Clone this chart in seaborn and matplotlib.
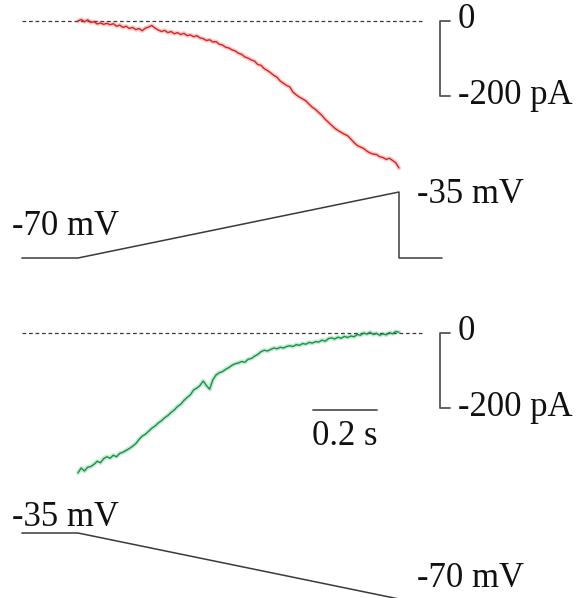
import numpy as np
import pandas as pd
import seaborn as sns
import matplotlib.pyplot as plt

# --- recorded traces: current (pA) sampled every 10 ms from ramp onset ---
current_up = [0, 4, -2, 3, -4, -2, -8, -5, -9, -6,
              -10, -7, -14, -11, -17, -14, -20, -17, -23, -20,
              -26, -19, -16, -12, -19, -24, -28, -25, -31, -28,
              -34, -31, -36, -33, -39, -37, -42, -39, -45, -47,
              -52, -50, -56, -55, -62, -64, -70, -72, -77, -80,
              -86, -89, -96, -99, -104, -107, -116, -118, -127, -132,
              -138, -145, -150, -160, -166, -172, -176, -190, -197, -203,
              -208, -213, -222, -230, -236, -244, -252, -262, -270, -278,
              -286, -292, -297, -302, -306, -315, -324, -332, -336, -340,
              -347, -352, -355, -356, -362, -364, -369, -366, -372, -378,
              -392]

current_down = [-373, -360, -368, -358, -356, -350, -342, -346, -335, -330,
                -334, -326, -330, -321, -318, -313, -308, -302, -295, -284,
                -275, -270, -262, -254, -248, -240, -234, -226, -220, -212,
                -205, -196, -190, -180, -172, -165, -152, -147, -140, -128,
                -140, -150, -125, -112, -106, -103, -97, -92, -86, -82,
                -80, -76, -78, -70, -68, -62, -57, -50, -46, -48,
                -44, -40, -42, -38, -40, -36, -34, -36, -31, -33,
                -28, -30, -25, -27, -23, -24, -19, -22, -15, -13,
                -16, -11, -14, -9, -12, -8, -10, -4, -6, 0,
                -3, 2, -4, -1, -6, -2, -5, 1, -2, 4,
                2]

sample_dt = 0.01  # s
time_up = [round(k * sample_dt, 2) for k in range(len(current_up))]
time_down = [round(k * sample_dt, 2) for k in range(len(current_down))]

# --- voltage command protocols (s, mV) ---
cmd_up_t = [-0.175, 0.0, 1.0, 1.0, 1.134]
cmd_up_v = [-70, -70, -35, -70, -70]
cmd_down_t = [-0.175, 0.0, 1.0]
cmd_down_v = [-35, -35, -70]

# --- scale bars ---
scale_current = [0, -200]   # pA
scale_time = 0.2            # s

# figure geometry in pixels
W, H = 578, 598
T0_PX, PX_PER_S = 78, 321
PX_PER_PA = 75 / 200
PX_PER_MV = 66 / 35

sns.set_theme(style="white")
plt.rcParams['font.family'] = ['Liberation Serif', 'DejaVu Serif']
plt.rcParams['text.color'] = '#111111'

fig = plt.figure(figsize=(W / 100, H / 100), dpi=100)


def overlay_axes(ref_px, ref_val, px_per_unit):
    ax = fig.add_axes([0, 0, 1, 1])
    ax.set_xlim(-T0_PX / PX_PER_S, (W - T0_PX) / PX_PER_S)
    ax.set_ylim(ref_val - (H - ref_px) / px_per_unit, ref_val + ref_px / px_per_unit)
    ax.axis('off')
    ax.patch.set_alpha(0)
    return ax


ax_i1 = overlay_axes(21, 0, PX_PER_PA)
ax_v1 = overlay_axes(192, -35, PX_PER_MV)
ax_i2 = overlay_axes(333, 0, PX_PER_PA)
ax_v2 = overlay_axes(533, -35, PX_PER_MV)

red = '#d8231f'
green = '#0e9644'
grey = '#3a3a3a'
bar_grey = '#555555'
fs = 25

t_start, t_dash_end = -0.1745, 1.0717
t_bar = (440 - T0_PX) / PX_PER_S
t_tick = (450 - T0_PX) / PX_PER_S
t_lab = (458 - T0_PX) / PX_PER_S

for ax, t, i, col in [(ax_i1, time_up, current_up, red),
                      (ax_i2, time_down, current_down, green)]:
    df = pd.DataFrame({'t': t, 'i': i})
    # zero-current reference
    ax.plot([t_start, t_dash_end], [0, 0], color=grey, lw=0.9,
            dashes=(3, 2.2))
    # soft halo + trace
    sns.lineplot(data=df, x='t', y='i', ax=ax, color=col, lw=3.2, alpha=0.22,
                 estimator=None, sort=False)
    sns.lineplot(data=df, x='t', y='i', ax=ax, color=col, lw=1.0,
                 estimator=None, sort=False)
    # current scale bracket
    ax.plot([t_tick, t_bar, t_bar, t_tick],
            [scale_current[0], scale_current[0], scale_current[1], scale_current[1]],
            color=bar_grey, lw=1.3)
    ax.text(t_lab, scale_current[0] + 4, '0', fontsize=fs, va='center', ha='left')
    ax.text(t_lab, scale_current[1] + 2, '-200 pA', fontsize=fs,
            va='center', ha='left')

# time scale bar
t_sb0 = (313 - T0_PX) / PX_PER_S
ax_i2.plot([t_sb0, t_sb0 + scale_time], [-205, -205], color=bar_grey, lw=1.3)
ax_i2.text(t_sb0 + scale_time / 2, -275, '0.2 s', fontsize=fs, ha='center', va='center')

# voltage commands
for ax, t, v in [(ax_v1, cmd_up_t, cmd_up_v), (ax_v2, cmd_down_t, cmd_down_v)]:
    sns.lineplot(x=t, y=v, ax=ax, color=grey, lw=1.1, estimator=None, sort=False)

t_left_lab = (12 - T0_PX) / PX_PER_S
t_right_lab = (417 - T0_PX) / PX_PER_S
ax_v1.text(t_right_lab, -36.5, '-35 mV', fontsize=fs, va='center', ha='left')
ax_v1.text(t_left_lab, -53.5, '-70 mV', fontsize=fs, va='center', ha='left')
ax_v2.text(t_left_lab, -27, '-35 mV', fontsize=fs, va='center', ha='left')
ax_v2.text(t_right_lab, -59, '-70 mV', fontsize=fs, va='center', ha='left')

fig.savefig('out.png', dpi=100, facecolor='white')
